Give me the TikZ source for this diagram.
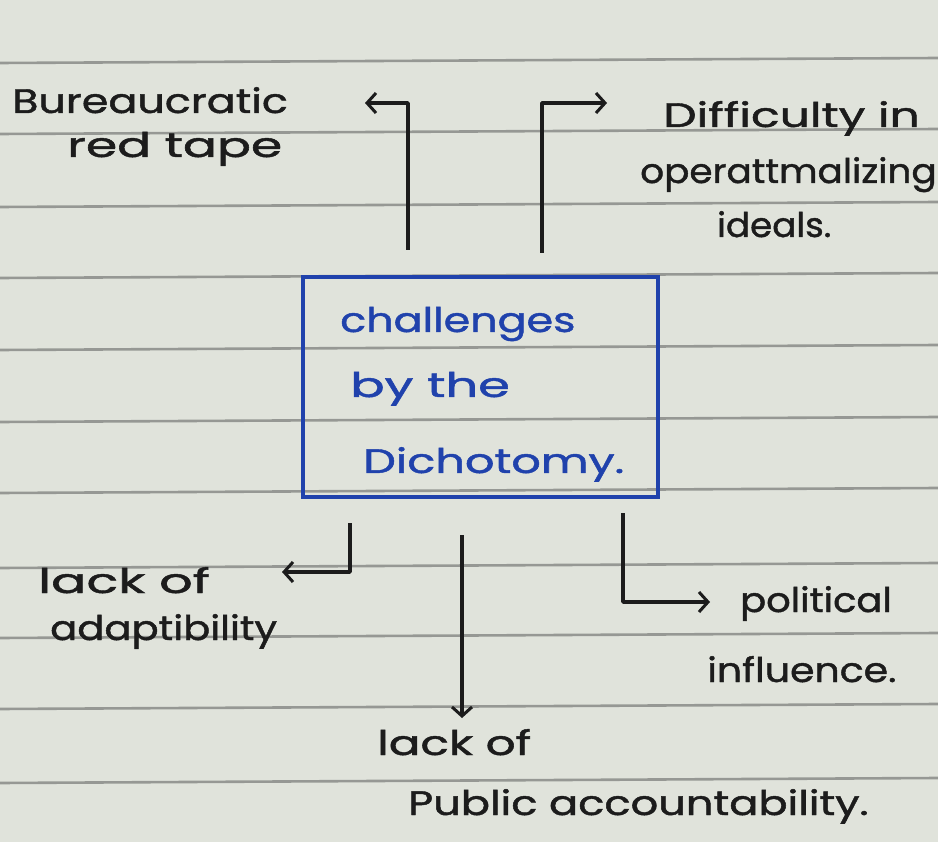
\documentclass[tikz,border=0pt]{standalone}
\usepackage{fontspec}
\setmainfont{Poppins}[FakeBold=1.2]
\usetikzlibrary{arrows.meta}
\definecolor{paper}{RGB}{224,227,219}
\definecolor{rulecol}{RGB}{150,152,148}
\definecolor{ink}{RGB}{28,28,28}
\definecolor{blueink}{RGB}{32,66,172}
\newcommand{\hx}[2]{\scalebox{#1}[1]{#2}}
\begin{document}
\begin{tikzpicture}[x=1pt,y=-1pt,
  hand/.style={font=\fontsize{34}{38}\selectfont, text=ink, inner sep=0pt, anchor=base west},
  bluehand/.style={hand, text=blueink},
  conn/.style={draw=ink, line width=3.4pt, line join=round,
    -{Straight Barb[length=9pt,width=20pt,line width=3pt]}},
  ruled/.style={draw=rulecol, line width=2.6pt}]
\fill[paper] (0,0) rectangle (938,842);
\useasboundingbox (0,0) rectangle (938,842);
\foreach \yy in {62,133,206,277,349,421,492,567,637,708,782}
  \draw[ruled] (0,\yy+1) -- (938,\yy-4);
% central box
\node[draw=blueink, line width=3.4pt, minimum width=355pt, minimum height=220pt, inner sep=0pt] (box) at (480.5,387) {};
\node[bluehand] (t1) at (340,332) {\hx{1.26}{challenges}};
\node[bluehand] (t2) at (350,397) {\hx{1.5}{by the}};
\node[bluehand] (t3) at (363,473) {\hx{1.36}{Dichotomy.}};
% labels
\node[hand] (b1) at (12,113) {\hx{1.26}{Bureaucratic}};
\node[hand] (b2) at (67,157) {\hx{1.48}{red tape}};
\node[hand] (d1) at (663,127) {\hx{1.39}{Difficulty in}};
\node[hand] (d2) at (640,183) {\hx{1.1}{operattmalizing}};
\node[hand] (d3) at (717,237) {\hx{1.05}{ideals.}};
\node[hand] (l1) at (38,593) {\hx{1.54}{lack of}};
\node[hand] (l2) at (50,640) {\hx{1.18}{adaptibility}};
\node[hand] (p1) at (377,755) {\hx{1.38}{lack of}};
\node[hand] (p2) at (408,815) {\hx{1.27}{Public accountability.}};
\node[hand] (q1) at (740,612) {\hx{1.13}{political}};
\node[hand] (q2) at (707,682) {\hx{1.16}{influence.}};
% connectors
\coordinate (c1s) at (408,250); \coordinate (c1e) at (365,103);
\coordinate (c2s) at (542,253); \coordinate (c2e) at (607,103);
\coordinate (c3s) at (350,523); \coordinate (c3e) at (282,572);
\coordinate (c4s) at (462,535); \coordinate (c4e) at (462,718);
\coordinate (c5s) at (623,513); \coordinate (c5e) at (710,602);
\draw[conn] (c1s) |- (c1e);
\draw[conn] (c2s) |- (c2e);
\draw[conn] (c3s) |- (c3e);
\draw[conn] (c4s) -- (c4e);
\draw[conn] (c5s) |- (c5e);
\end{tikzpicture}
\end{document}
